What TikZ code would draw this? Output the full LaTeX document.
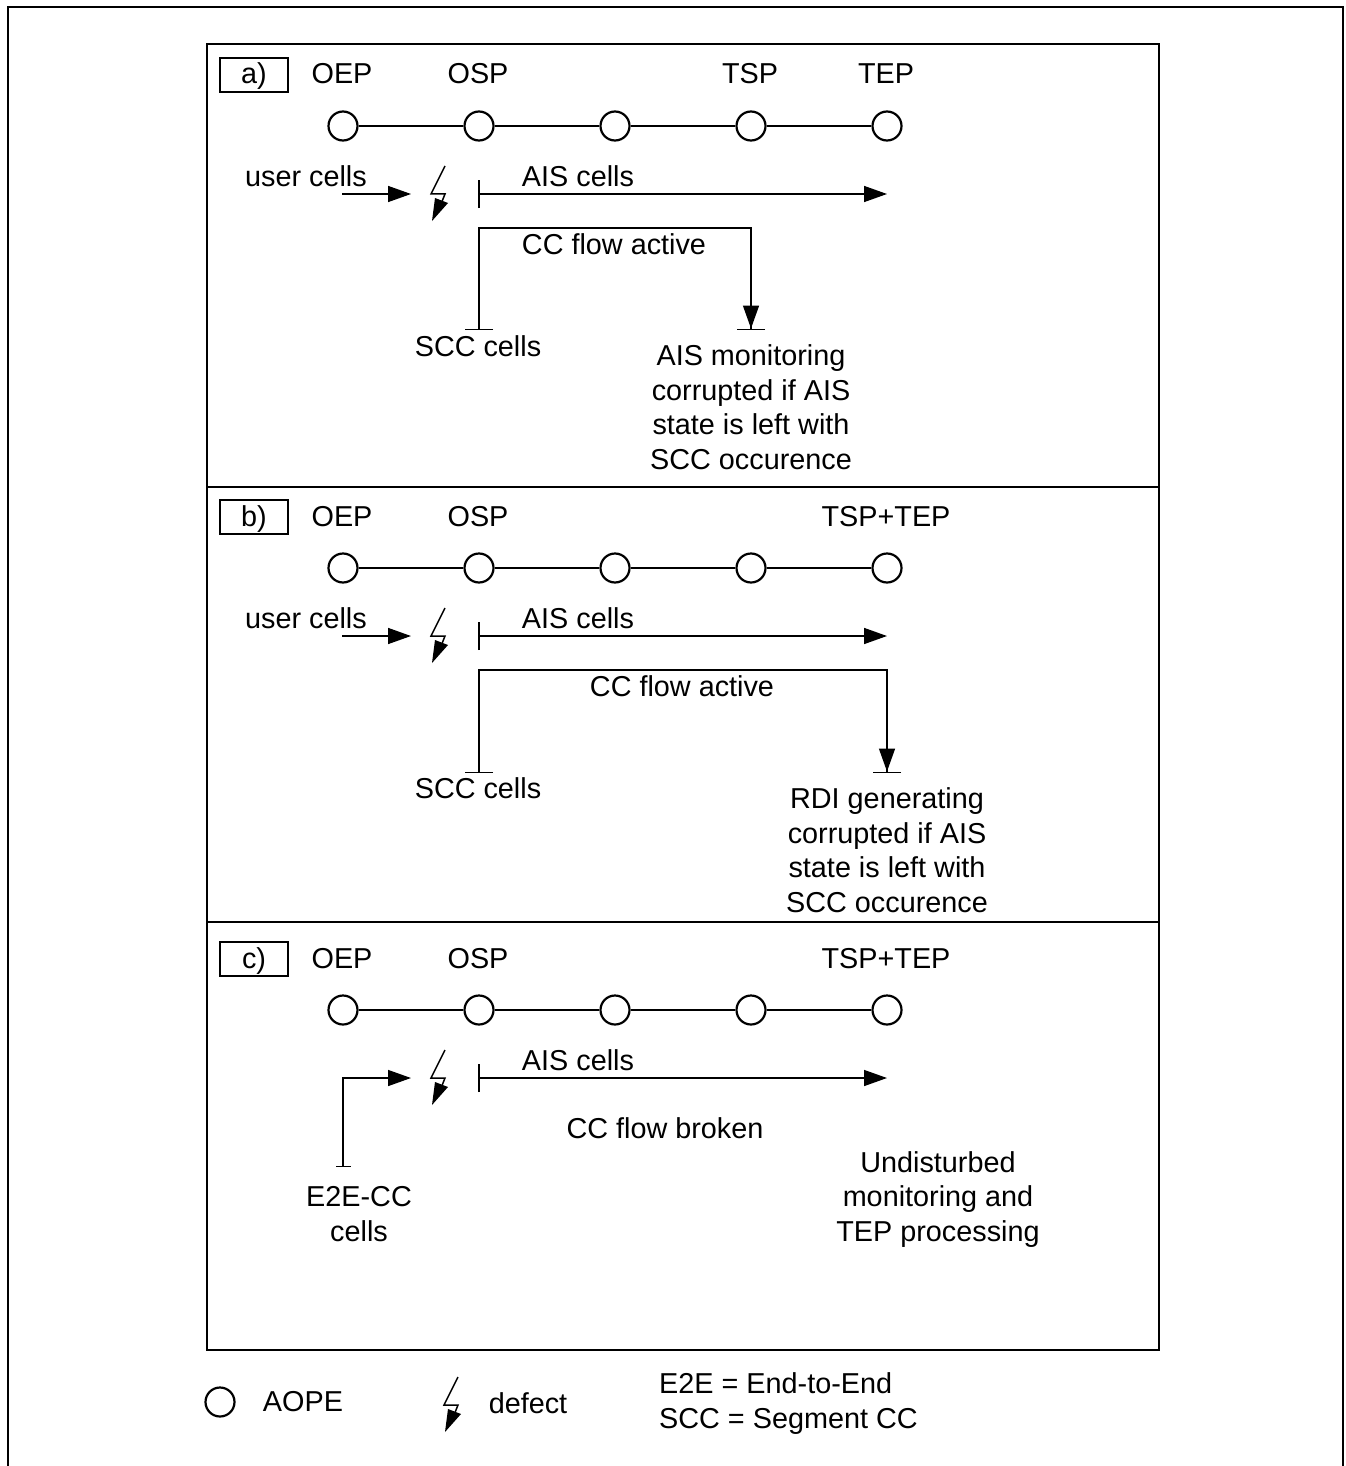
\documentclass[tikz,border=0pt]{standalone}
\usepackage{fontspec}
\setmainfont{Liberation Sans}
\usetikzlibrary{arrows.meta}
\tikzset{
  line/.style={line width=1.5pt},
  frame/.style={line width=2pt},
  aope/.style={circle,draw,line width=2.2pt,minimum size=29pt,inner sep=0pt,fill=white},
  txt/.style={inner sep=0pt,anchor=base,font=\fontsize{28.8}{34.5}\selectfont},
  multi/.style={txt,align=center},
  labelbox/.style={draw,line width=1.5pt,minimum width=68pt,minimum height=34pt,inner sep=0pt,text height=22pt,text depth=4pt,font=\fontsize{28.8}{34.5}\selectfont},
  flow/.style={line,-{Triangle[length=23pt,width=16pt]}},
  startbar/.style={line,{Bar[width=28pt,line width=1.5pt]}-{Triangle[length=23pt,width=16pt]}},
  teeflow/.style={line,{Bar[width=28pt,line width=1.5pt]}-{Triangle[length=23pt,width=16pt,sep=0pt]Bar[width=28pt,line width=1.5pt]}},
  defect/.pic={
    \draw[line width=1.5pt,line join=miter] (445,166) -- (431,194) -- (445,194) -- (441,204);
    \fill (435,198) -- (448,203) -- (432,221) -- cycle;
  }
}
\begin{document}
\begin{tikzpicture}[x=1pt,y=-1pt]
\useasboundingbox (0,0) rectangle (1345,1466);
\coordinate (pageBL) at (8,1466); \coordinate (pageTL) at (8,7);
\coordinate (pageTR) at (1343,7); \coordinate (pageBR) at (1343,1466);
\draw[line width=2.5pt] (pageBL) -- (pageTL) -- (pageTR) -- (pageBR);
% panels
\coordinate (outerTL) at (207,44); \coordinate (outerBR) at (1159,1350);
\draw[frame] (outerTL) rectangle (outerBR);
\coordinate (sepAL) at (207,487); \coordinate (sepAR) at (1159,487);
\coordinate (sepBL) at (207,922); \coordinate (sepBR) at (1159,922);
\draw[frame] (sepAL) -- (sepAR);
\draw[frame] (sepBL) -- (sepBR);
% panel a
\node[labelbox] (boxa) at (254,75) {a)};
\node[txt] (la1) at (342,84) {OEP};
\node[txt] (la2) at (478,84) {OSP};
\node[txt] (la4) at (750,84) {TSP};
\node[txt] (la5) at (886,84) {TEP};
\node[aope] (a1) at (343,126) {};
\node[aope] (a2) at (479,126) {};
\node[aope] (a3) at (615,126) {};
\node[aope] (a4) at (751,126) {};
\node[aope] (a5) at (887,126) {};
\draw[line] (a1) -- (a2) -- (a3) -- (a4) -- (a5);
\node[txt] (ua) at (306,186) {user cells};
\node[txt] (aisa) at (578,186) {AIS cells};
\coordinate (uas) at (342,194); \coordinate (uae) at (411,194);
\draw[flow] (uas) -- (uae);
\pic at (0,0) {defect};
\coordinate (aas) at (478.4,194); \coordinate (aae) at (887,194);
\draw[startbar] (aas) -- (aae);
\coordinate (cas) at (479,330); \coordinate (cam) at (479,228);
\coordinate (cam2) at (751,228); \coordinate (cae) at (751,330);
\draw[teeflow] (cas) -- (cam) -- (cam2) -- (cae);
\node[txt] (cca) at (614,254) {CC flow active};
\node[txt] (scca) at (478,356) {SCC cells};
\node[multi] (nota) at (751,469) {AIS monitoring\\corrupted if AIS\\state is left with\\SCC occurence};
% panel b
\node[labelbox] (boxb) at (254,517) {b)};
\node[txt] (lb1) at (342,526) {OEP};
\node[txt] (lb2) at (478,526) {OSP};
\node[txt] (lb5) at (886,526) {TSP+TEP};
\node[aope] (b1) at (343,568) {};
\node[aope] (b2) at (479,568) {};
\node[aope] (b3) at (615,568) {};
\node[aope] (b4) at (751,568) {};
\node[aope] (b5) at (887,568) {};
\draw[line] (b1) -- (b2) -- (b3) -- (b4) -- (b5);
\node[txt] (ub) at (306,628) {user cells};
\node[txt] (aisb) at (578,628) {AIS cells};
\coordinate (ubs) at (342,636); \coordinate (ube) at (411,636);
\draw[flow] (ubs) -- (ube);
\pic at (0,442) {defect};
\coordinate (abs) at (478.4,636); \coordinate (abe) at (887,636);
\draw[startbar] (abs) -- (abe);
\coordinate (cbs) at (479,773); \coordinate (cbm) at (479,670);
\coordinate (cbm2) at (887,670); \coordinate (cbe) at (887,773);
\draw[teeflow] (cbs) -- (cbm) -- (cbm2) -- (cbe);
\node[txt] (ccb) at (682,696) {CC flow active};
\node[txt] (sccb) at (478,798) {SCC cells};
\node[multi] (notb) at (887,912) {RDI generating\\corrupted if AIS\\state is left with\\SCC occurence};
% panel c
\node[labelbox] (boxc) at (254,959) {c)};
\node[txt] (lc1) at (342,968) {OEP};
\node[txt] (lc2) at (478,968) {OSP};
\node[txt] (lc5) at (886,968) {TSP+TEP};
\node[aope] (c1) at (343,1010) {};
\node[aope] (c2) at (479,1010) {};
\node[aope] (c3) at (615,1010) {};
\node[aope] (c4) at (751,1010) {};
\node[aope] (c5) at (887,1010) {};
\draw[line] (c1) -- (c2) -- (c3) -- (c4) -- (c5);
\node[txt] (aisc) at (578,1070) {AIS cells};
\coordinate (ucs) at (343,1167); \coordinate (ucm) at (343,1078); \coordinate (uce) at (411,1078);
\draw[line,{Bar[width=15pt,line width=1.5pt]}-{Triangle[length=23pt,width=16pt]}] (ucs) -- (ucm) -- (uce);
\pic at (0,884) {defect};
\coordinate (acs) at (478.4,1078); \coordinate (ace) at (887,1078);
\draw[startbar] (acs) -- (ace);
\node[txt] (ccc) at (665,1138) {CC flow broken};
\node[multi] (e2ec) at (359,1241) {E2E-CC\\cells};
\node[multi] (notc) at (938,1241) {Undisturbed\\monitoring and\\TEP processing};
% legend
\node[aope] (lega) at (220,1402) {};
\node[txt] (legat) at (303,1411) {AOPE};
\pic at (13,1211) {defect};
\node[txt] (legd) at (528,1413) {defect};
\node[txt,align=left,anchor=base west] (legn) at (659,1428) {E2E = End-to-End\\SCC = Segment CC};
\end{tikzpicture}
\end{document}
